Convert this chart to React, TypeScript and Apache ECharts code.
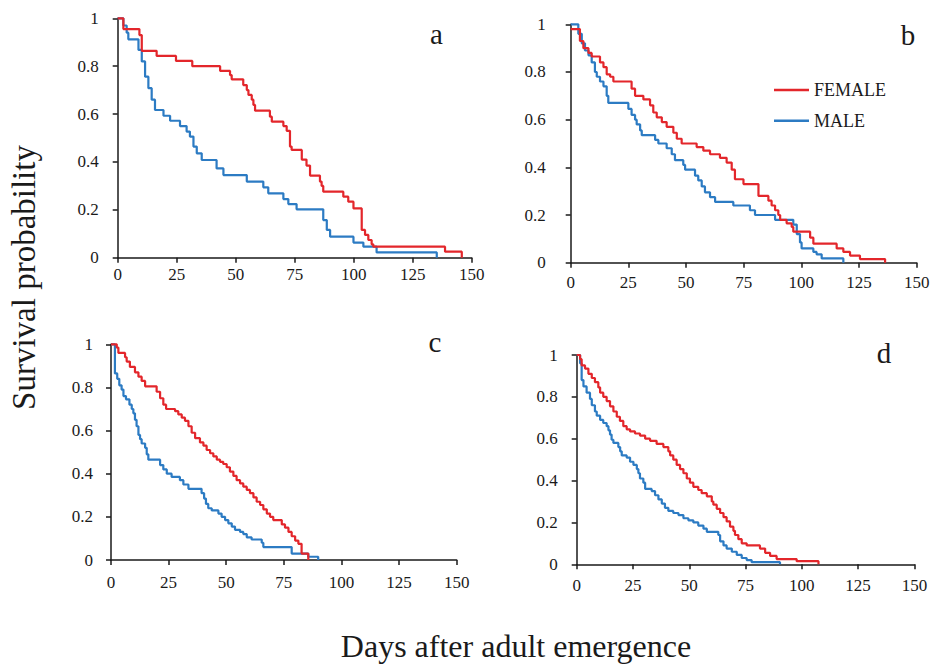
import React, { useEffect, useRef } from "react";
import * as echarts from "echarts";

// ---------- data (days after emergence, survival probability) ----------
const aFemaleDays = [0, 2.4, 9.2, 10.2, 16.5, 24.7, 31.6, 43.4, 47.6, 48.3, 53.2, 54.7, 55.4, 56.8, 57.5, 58.2, 64.5, 65.3, 70.2, 71.6, 73.0, 73.7, 78.0, 80.0, 81.5, 85.7, 86.4, 87.1, 95.6, 97.7, 99.9, 103.4, 104.8, 106.2, 107.6, 108.3, 138.7, 145.8];
const aFemaleSurv = [1, 0.955, 0.93, 0.864, 0.843, 0.822, 0.8, 0.78, 0.763, 0.745, 0.721, 0.7, 0.68, 0.66, 0.638, 0.614, 0.589, 0.568, 0.55, 0.53, 0.464, 0.45, 0.41, 0.385, 0.343, 0.318, 0.3, 0.276, 0.255, 0.234, 0.206, 0.116, 0.095, 0.074, 0.056, 0.046, 0.025, 0];
const aMaleDays = [0, 2.4, 3.8, 4.5, 8.8, 10.2, 11.6, 13.0, 14.4, 15.8, 19.4, 22.2, 26.4, 29.2, 30.6, 32.1, 33.5, 35.6, 41.9, 44.8, 54.7, 61.7, 63.8, 70.2, 72.3, 75.8, 87.1, 88.6, 90.0, 99.9, 104.1, 109.7, 135.2];
const aMaleSurv = [1, 0.97, 0.94, 0.912, 0.868, 0.82, 0.756, 0.708, 0.66, 0.617, 0.593, 0.572, 0.55, 0.527, 0.506, 0.464, 0.436, 0.408, 0.373, 0.345, 0.318, 0.294, 0.269, 0.245, 0.224, 0.202, 0.157, 0.116, 0.088, 0.063, 0.046, 0.022, 0];

const bFemaleDays = [0, 4.0, 5.5, 7.7, 9.1, 12.7, 14.2, 15.6, 17.1, 18.5, 26.4, 27.9, 31.5, 34.4, 35.8, 37.3, 39.5, 41.6, 44.5, 46.0, 48.1, 54.6, 57.5, 60.4, 64.7, 67.6, 69.8, 71.2, 74.9, 81.4, 85.7, 87.1, 88.6, 90.0, 90.8, 93.6, 95.8, 96.5, 103.8, 105.2, 115.3, 118.2, 121.1, 125.4, 136.3];
const bFemaleSurv = [0.98, 0.93, 0.9, 0.88, 0.865, 0.84, 0.82, 0.79, 0.78, 0.76, 0.73, 0.7, 0.685, 0.66, 0.63, 0.61, 0.59, 0.57, 0.545, 0.52, 0.5, 0.485, 0.47, 0.455, 0.44, 0.42, 0.39, 0.35, 0.33, 0.28, 0.26, 0.24, 0.22, 0.2, 0.18, 0.165, 0.15, 0.13, 0.105, 0.08, 0.06, 0.045, 0.03, 0.015, 0];
const bMaleDays = [0, 3.3, 4.8, 6.2, 7.7, 9.1, 10.5, 11.3, 12.7, 14.2, 15.6, 16.3, 25.0, 26.4, 27.9, 28.6, 30.1, 30.8, 36.6, 38.0, 41.6, 43.8, 45.2, 48.8, 49.6, 53.9, 55.3, 56.8, 58.2, 60.4, 62.6, 70.5, 77.7, 79.9, 88.6, 96.5, 98.0, 99.4, 100.1, 105.2, 106.6, 108.8, 118.2];
const bMaleSurv = [1, 0.96, 0.92, 0.89, 0.87, 0.84, 0.8, 0.78, 0.76, 0.74, 0.7, 0.67, 0.645, 0.62, 0.6, 0.58, 0.555, 0.535, 0.515, 0.5, 0.48, 0.455, 0.43, 0.41, 0.39, 0.365, 0.345, 0.32, 0.295, 0.275, 0.255, 0.24, 0.22, 0.2, 0.18, 0.16, 0.12, 0.085, 0.06, 0.045, 0.035, 0.018, 0];

const cFemaleDays = [0, 2.5, 3.2, 6.1, 6.8, 8.2, 10.4, 11.9, 13.3, 14.8, 19.8, 21.3, 22.7, 23.9, 27.8, 29.2, 30.7, 32.1, 33.6, 35.0, 36.5, 38.6, 40.1, 41.5, 43.0, 44.4, 45.9, 47.3, 48.7, 50.2, 51.6, 53.1, 54.5, 56.0, 57.4, 58.9, 60.3, 61.8, 63.2, 64.7, 66.1, 67.6, 69.0, 70.4, 74.1, 75.5, 77.0, 78.4, 79.9, 81.3, 82.7, 85.6];
const cFemaleSurv = [1, 0.985, 0.96, 0.94, 0.92, 0.895, 0.87, 0.85, 0.83, 0.805, 0.78, 0.75, 0.72, 0.7, 0.69, 0.675, 0.66, 0.645, 0.62, 0.59, 0.565, 0.545, 0.53, 0.51, 0.495, 0.48, 0.465, 0.455, 0.445, 0.43, 0.41, 0.39, 0.37, 0.355, 0.34, 0.325, 0.31, 0.29, 0.27, 0.255, 0.235, 0.215, 0.2, 0.185, 0.165, 0.15, 0.13, 0.11, 0.09, 0.075, 0.03, 0];
const cMaleDays = [0, 1.7, 2.7, 3.6, 4.6, 5.4, 6.5, 8.0, 9.0, 9.7, 10.4, 11.1, 11.9, 12.6, 13.3, 14.8, 15.5, 16.2, 21.3, 22.7, 24.2, 26.3, 29.9, 31.4, 33.6, 39.3, 40.4, 41.2, 42.2, 43.7, 46.6, 48.0, 49.5, 50.9, 52.4, 53.8, 56.0, 57.4, 58.9, 61.0, 65.4, 66.1, 78.4, 85.6, 89.9];
const cMaleSurv = [1, 0.865, 0.84, 0.81, 0.79, 0.76, 0.745, 0.72, 0.7, 0.68, 0.65, 0.62, 0.58, 0.56, 0.54, 0.52, 0.49, 0.465, 0.44, 0.42, 0.4, 0.385, 0.37, 0.35, 0.33, 0.31, 0.285, 0.26, 0.24, 0.23, 0.215, 0.2, 0.185, 0.17, 0.155, 0.14, 0.13, 0.12, 0.105, 0.095, 0.08, 0.06, 0.03, 0.015, 0];

const dFemaleDays = [0, 1.5, 2.2, 3.7, 5.2, 6.7, 8.1, 9.6, 10.4, 11.8, 13.3, 14.8, 16.3, 17.8, 19.2, 20.7, 22.2, 23.7, 25.9, 28.1, 30.4, 32.6, 35.5, 38.5, 40.7, 41.5, 42.9, 44.4, 45.9, 47.4, 48.9, 50.3, 51.8, 54.0, 55.5, 57.8, 60.0, 60.7, 62.2, 63.7, 65.2, 66.6, 68.1, 69.6, 70.3, 71.8, 73.3, 75.5, 81.4, 83.7, 85.9, 88.8, 97.7, 107.4];
const dFemaleSurv = [1, 0.98, 0.95, 0.935, 0.91, 0.89, 0.87, 0.845, 0.82, 0.8, 0.78, 0.755, 0.73, 0.705, 0.685, 0.66, 0.645, 0.635, 0.625, 0.615, 0.6, 0.59, 0.575, 0.56, 0.54, 0.52, 0.5, 0.475, 0.455, 0.435, 0.41, 0.39, 0.37, 0.355, 0.34, 0.325, 0.3, 0.285, 0.265, 0.245, 0.225, 0.205, 0.18, 0.16, 0.14, 0.12, 0.1, 0.09, 0.075, 0.055, 0.04, 0.025, 0.015, 0];
const dMaleDays = [0, 1.5, 2.2, 3.0, 4.4, 5.9, 6.7, 8.1, 8.9, 10.4, 11.8, 13.3, 14.1, 14.8, 15.5, 16.3, 18.5, 19.3, 20.0, 22.2, 23.7, 25.2, 26.7, 27.4, 28.1, 29.6, 30.4, 33.3, 34.8, 36.3, 37.8, 39.2, 40.7, 42.9, 45.2, 47.4, 49.6, 51.8, 54.0, 56.3, 57.8, 62.9, 63.7, 65.2, 66.6, 68.9, 71.1, 73.3, 75.5, 77.7, 90.3];
const dMaleSurv = [1, 0.96, 0.88, 0.85, 0.82, 0.79, 0.76, 0.73, 0.71, 0.69, 0.675, 0.66, 0.64, 0.62, 0.595, 0.58, 0.56, 0.54, 0.52, 0.51, 0.49, 0.475, 0.455, 0.435, 0.41, 0.39, 0.36, 0.35, 0.33, 0.31, 0.29, 0.27, 0.255, 0.245, 0.235, 0.22, 0.21, 0.2, 0.185, 0.17, 0.155, 0.14, 0.11, 0.09, 0.075, 0.06, 0.045, 0.03, 0.02, 0.01, 0];

const seriesNames = ["FEMALE", "MALE"];
const panelLetters = ["a", "b", "c", "d"];
const xTitle = "Days after adult emergence";
const yTitle = "Survival probability";
const xMin = 0;
const xMax = 150;
const xStep = 25;
const yMin = 0;
const yMax = 1;
const yStep = 0.2;

// ---------- styles / layout ----------
const RED = "#E3262B";
const BLUE = "#2C7BC3";
const INK = "#1a1a1a";
const FONT = "Liberation Serif";
const TICK_FONT = "17px Liberation Serif";

const layout = [
  { left: 117.7, top: 18.3, width: 354, height: 239.4, xMargin: 8, yMargin: 19, letter: [436.5, 34] },
  { left: 570.7, top: 24.3, width: 346, height: 238.4, xMargin: 11, yMargin: 25, letter: [908, 35] },
  { left: 111, top: 344.3, width: 345.7, height: 215.7, xMargin: 14, yMargin: 18, letter: [435, 342] },
  { left: 576.7, top: 355, width: 337.7, height: 209.3, xMargin: 13, yMargin: 19, letter: [884, 353] },
];

const curves = [
  [[aFemaleDays, aFemaleSurv], [aMaleDays, aMaleSurv]],
  [[bFemaleDays, bFemaleSurv], [bMaleDays, bMaleSurv]],
  [[cFemaleDays, cFemaleSurv], [cMaleDays, cMaleSurv]],
  [[dFemaleDays, dFemaleSurv], [dMaleDays, dMaleSurv]],
];

function labelStyle(margin: number) {
  return {
    color: INK,
    fontFamily: FONT,
    fontSize: 17,
    font: TICK_FONT,
    margin,
    formatter: "{t|{value}}",
    rich: { t: { fontFamily: FONT, fontSize: 17, font: TICK_FONT, color: INK } },
  };
}

function buildOption() {
  const grids: any[] = [];
  const xAxes: any[] = [];
  const yAxes: any[] = [];
  const series: any[] = [];
  const graphics: any[] = [];
  layout.forEach((L, i) => {
    grids.push({ left: L.left, top: L.top, width: L.width, height: L.height, containLabel: false, outerBoundsMode: "none" });
    const axisCommon = {
      axisLine: { show: true, onZero: false, lineStyle: { color: INK, width: 1.5 } },
      axisTick: { show: true, inside: false, length: 5, lineStyle: { color: INK, width: 1.5 } },
      splitLine: { show: false },
    };
    xAxes.push({
      type: "value", gridIndex: i, min: xMin, max: xMax, interval: xStep, ...axisCommon,
      axisLabel: labelStyle(L.xMargin),
    });
    yAxes.push({
      type: "value", gridIndex: i, min: yMin, max: yMax, interval: yStep, ...axisCommon,
      axisLabel: labelStyle(L.yMargin),
    });
    const colors = [RED, BLUE];
    curves[i].forEach((c, k) => {
      const [days, surv] = c;
      series.push({
        type: "line",
        name: seriesNames[k],
        xAxisIndex: i,
        yAxisIndex: i,
        step: "end",
        symbol: "none",
        showSymbol: false,
        clip: false,
        z: k === 0 ? 3 : 2,
        color: colors[k],
        itemStyle: { color: colors[k] },
        lineStyle: { color: colors[k], width: 2.2 },
        data: days.map((d: number, j: number) => [d, surv[j]]),
      });
    });
    graphics.push({
      type: "text",
      x: L.letter[0],
      y: L.letter[1],
      style: { text: panelLetters[i], fill: INK, font: `29px ${FONT}`, align: "center", verticalAlign: "middle" },
    });
  });
  graphics.push({
    type: "text",
    x: 516,
    y: 646,
    style: { text: xTitle, fill: INK, font: `32px ${FONT}`, align: "center", verticalAlign: "middle" },
  });
  graphics.push({
    type: "text",
    x: 24,
    y: 277.5,
    rotation: Math.PI / 2,
    style: { text: yTitle, fill: INK, font: `33px ${FONT}`, align: "center", verticalAlign: "middle" },
  });

  return {
    animation: false,
    backgroundColor: "#ffffff",
    textStyle: { fontFamily: FONT },
    grid: grids,
    xAxis: xAxes,
    yAxis: yAxes,
    series,
    legend: {
      data: seriesNames,
      orient: "vertical",
      left: 774,
      top: 81,
      padding: 0,
      itemWidth: 35,
      itemHeight: 2.5,
      itemGap: 12.7,
      icon: "rect",
      formatter: "{t|{name}}",
      textStyle: {
        color: INK, fontFamily: FONT, fontSize: 18, font: "18px Liberation Serif",
        rich: { t: { fontFamily: FONT, fontSize: 18, color: INK } },
      },
      selectedMode: false,
    },
    graphic: graphics,
  };
}

export default function App() {
  const ref = useRef<HTMLDivElement>(null);
  useEffect(() => {
    document.body.style.margin = "0";
    const chart = echarts.init(ref.current as HTMLDivElement, null, { renderer: "svg" });
    chart.setOption(buildOption() as any);
    return () => chart.dispose();
  }, []);
  return (
    <div
      ref={ref}
      style={{ position: "absolute", left: 0, top: 0, width: 935, height: 667, background: "#fff" }}
    />
  );
}
